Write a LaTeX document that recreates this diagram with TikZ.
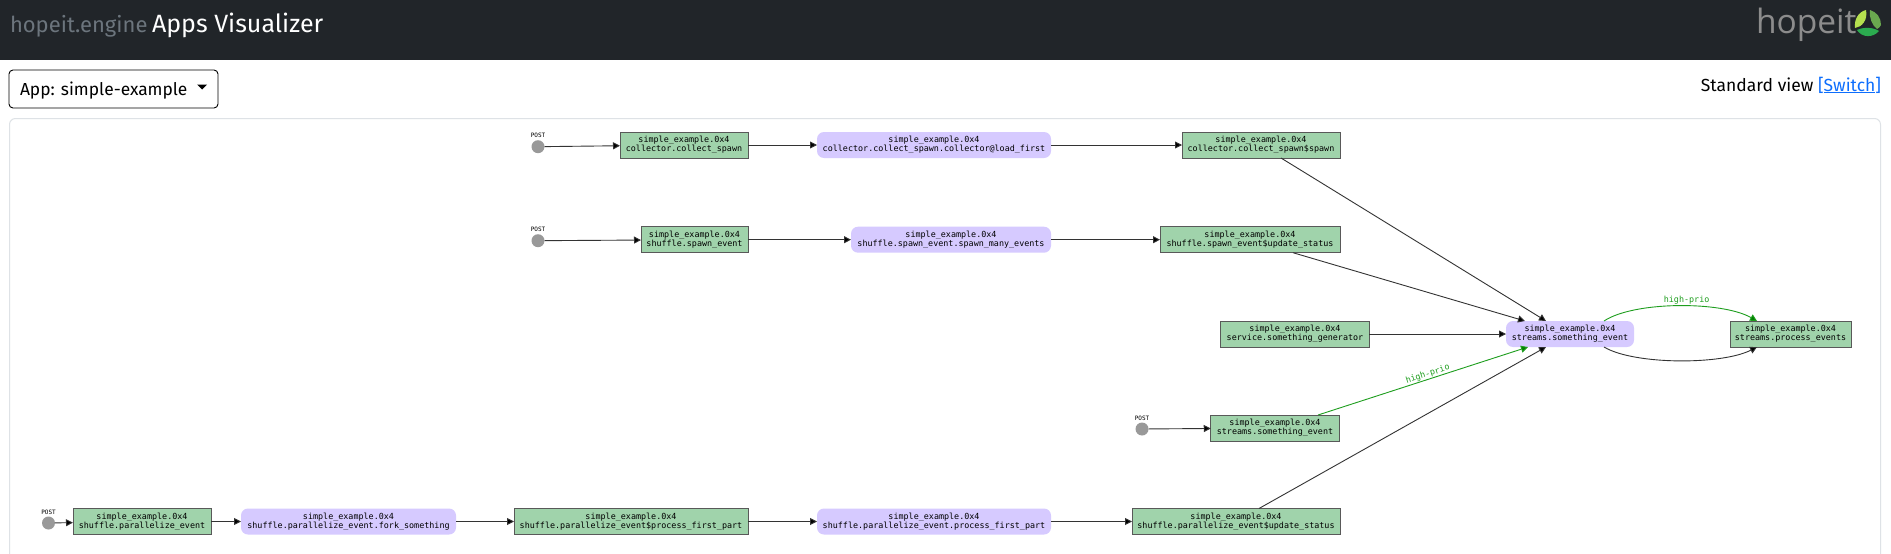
\documentclass[tikz,border=0pt]{standalone}
\usepackage{fontspec}
\usetikzlibrary{arrows.meta,calc}
\setmainfont{Fira Sans}
\newfontfamily\graphfont{DejaVu Sans Mono}
\newfontfamily\logofont{Open Sans}
\definecolor{hdr}{HTML}{212529}
\definecolor{muted}{HTML}{6C757D}
\definecolor{cardline}{HTML}{DEE2E6}
\definecolor{gfill}{HTML}{A0D3AB}
\definecolor{pfill}{HTML}{D6CAFF}
\definecolor{linkblue}{HTML}{0D6EFD}
\definecolor{prio}{HTML}{1E9E1E}
\definecolor{leafa}{HTML}{B5E04F}
\definecolor{leafb}{HTML}{6AA84F}
\definecolor{leafc}{HTML}{2BAB4F}
\tikzset{
  x=1pt,y=-1pt,
  base/.style={inner sep=0pt,outer sep=0pt,align=center,font=\graphfont\fontsize{8.4}{9}\selectfont,text=black,minimum height=26},
  gbox/.style={base,draw=black!65,line width=.9,fill=gfill},
  pbox/.style={base,fill=pfill,rounded corners=7},
  post/.style={circle,fill=black!40,minimum size=13,inner sep=0pt,outer sep=0pt,
     label={[font=\graphfont\fontsize{6}{6}\selectfont,inner sep=0pt,yshift=2]above:POST}},
  edge/.style={draw=black!80,line width=.9,-{Triangle[length=7,width=7,fill=black]}},
  gedge/.style={draw=prio,line width=.9,-{Triangle[length=7,width=7,fill=green!50!black]}},
  prtext/.style={text=prio,font=\graphfont\fontsize{8.4}{9}\selectfont,inner sep=0.5pt},
  ui/.style={inner sep=0pt,outer sep=0pt,anchor=base west},
}
\newcommand{\nb}[3]{\node[#1,minimum width=#3] (#2)}
\begin{document}
\begin{tikzpicture}
\useasboundingbox (0,0) rectangle (1891,554);
\fill[white] (0,0) rectangle (1891,554);
\fill[hdr] (0,0) rectangle (1891,60);
\node[ui,text=muted,font=\fontsize{22}{22}\selectfont] (brand) at (10,32) {hopeit.engine};
\node[ui,text=white,font=\fontsize{25}{25}\selectfont] (title) at (152,32) {Apps Visualizer};
\node[ui,text=black!45,font=\logofont\fontsize{33.5}{34}\selectfont] (logo) at (1756,33) {hopeit};
% logo mark
\fill[leafa] (1866,10) .. controls (1858,12) and (1854,20) .. (1855,28) .. controls (1862,27) and (1868,20) .. (1866,10) -- cycle;
\fill[leafb] (1870,10) .. controls (1877,12) and (1881,18) .. (1881,25) .. controls (1880,27) and (1879,28) .. (1877,29) .. controls (1872,25) and (1869,18) .. (1870,10) -- cycle;
\fill[leafc] (1857,30) .. controls (1863,27) and (1873,27) .. (1879,31) .. controls (1873,38) and (1862,38) .. (1857,30) -- cycle;
% dropdown
\node[draw=black,line width=.9,rounded corners=4,minimum width=209,minimum height=38,inner sep=0pt,outer sep=0pt] (dd) at (113.5,89) {};
\node[ui,font=\fontsize{17.4}{18}\selectfont] (ddtext) at (20,95) {App: simple-example};
\fill[black] (197,84.5) -- (207,84.5) -- (202,89.5) -- cycle;
\node[inner sep=0pt,outer sep=0pt,anchor=base east,font=\fontsize{17.5}{18}\selectfont] (view) at (1881,91) {Standard view \textcolor{linkblue}{[\underline{Switch}]}};
% card
\draw[cardline,line width=1,rounded corners=6] (9.5,560) -- (9.5,118.5) -- (1880.5,118.5) -- (1880.5,560);
% row 1
\node[post] (c0) at (538,146.7) {};
\nb{gbox}{c1}{128} at (684,145) {simple\_example.0x4\\collector.collect\_spawn};
\nb{pbox}{c2}{234} at (934,145) {simple\_example.0x4\\collector.collect\_spawn.collector@load\_first};
\nb{gbox}{c3}{158} at (1261,145) {simple\_example.0x4\\collector.collect\_spawn\$spawn};
% row 2
\node[post] (d0) at (538,240.7) {};
\nb{gbox}{d1}{107} at (694.5,239.7) {simple\_example.0x4\\shuffle.spawn\_event};
\nb{pbox}{d2}{200} at (951,239.7) {simple\_example.0x4\\shuffle.spawn\_event.spawn\_many\_events};
\nb{gbox}{d3}{180} at (1250,239.7) {simple\_example.0x4\\shuffle.spawn\_event\$update\_status};
% middle
\nb{gbox}{gen}{148.5} at (1295,334) {simple\_example.0x4\\service.something\_generator};
\nb{pbox}{ev}{128} at (1570,334) {simple\_example.0x4\\streams.something\_event};
\nb{gbox}{proc}{121} at (1790.5,334) {simple\_example.0x4\\streams.process\_events};
\node[post] (s0) at (1142,429) {};
\nb{gbox}{s1}{128.5} at (1275,428) {simple\_example.0x4\\streams.something\_event};
% bottom
\node[post] (b0) at (48.5,523) {};
\nb{gbox}{b1}{138} at (142,521.5) {simple\_example.0x4\\shuffle.parallelize\_event};
\nb{pbox}{b2}{215} at (348.5,521.5) {simple\_example.0x4\\shuffle.parallelize\_event.fork\_something};
\nb{gbox}{b3}{234} at (631,521.5) {simple\_example.0x4\\shuffle.parallelize\_event\$process\_first\_part};
\nb{pbox}{b4}{234} at (934,521.5) {simple\_example.0x4\\shuffle.parallelize\_event.process\_first\_part};
\nb{gbox}{b5}{208} at (1236,521.5) {simple\_example.0x4\\shuffle.parallelize\_event\$update\_status};
% edges
\draw[edge] (c0) -- (c1);
\draw[edge] (c1) -- (c2);
\draw[edge] (c2) -- (c3);
\draw[edge] (d0) -- (d1);
\draw[edge] (d1) -- (d2);
\draw[edge] (d2) -- (d3);
\draw[edge] (gen) -- (ev);
\draw[edge] (s0) -- (s1);
\draw[edge] (b0) -- (b1);
\draw[edge] (b1) -- (b2);
\draw[edge] (b2) -- (b3);
\draw[edge] (b3) -- (b4);
\draw[edge] (b4) -- (b5);
\draw[edge] ([xshift=20]c3.south) -- ([xshift=-24]ev.north);
\draw[edge] ([xshift=43]d3.south) -- ([xshift=-45]ev.north);
\draw[edge] ([xshift=23]b5.north) -- ([xshift=-24]ev.south);
\draw[gedge] ([xshift=43]s1.north) -- node[prtext,sloped,above,pos=.53] {high-prio} ([xshift=-42]ev.south);
\draw[gedge] ([xshift=34]ev.north) .. controls +(30,-20) and +(-35,-20) .. node[prtext,above,pos=.5,xshift=8,yshift=1] {high-prio} ([xshift=-33.5]proc.north);
\draw[edge] ([xshift=34]ev.south) .. controls +(30,18) and +(-35,18) .. ([xshift=-33.5]proc.south);
\end{tikzpicture}
\end{document}
